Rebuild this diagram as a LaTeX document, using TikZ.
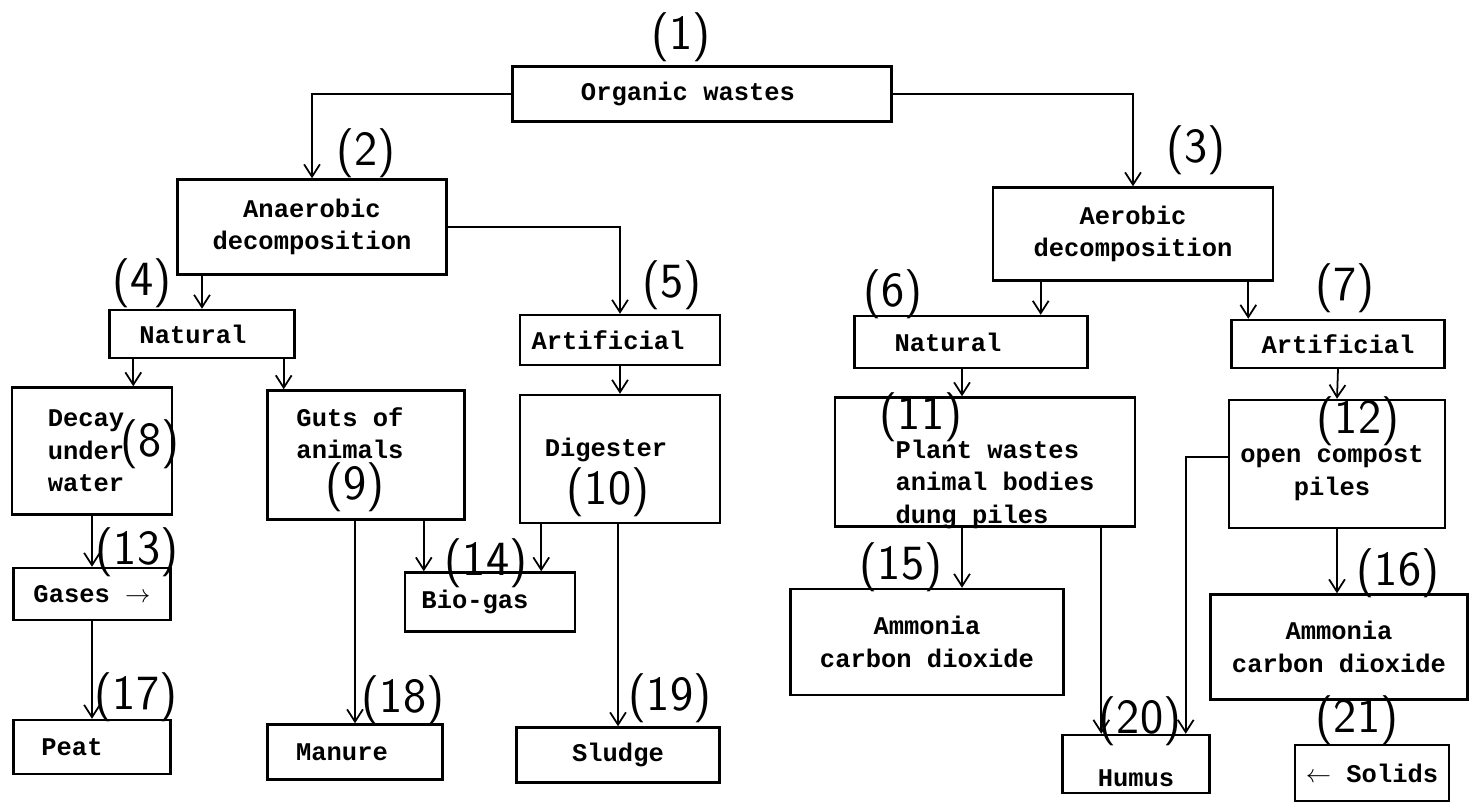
\documentclass[tikz,border=0pt]{standalone}
\usepackage{fontspec}
\setmonofont{Liberation Mono}
\usepackage{tikz}
\usetikzlibrary{arrows.meta,positioning}
\tikzstyle{block}=[draw, rectangle, line width=1.4pt, inner sep=0pt, align=center, font=\ttfamily\bfseries\fontsize{14.5}{18.5}\selectfont]
\tikzstyle{txt}=[inner sep=0pt, align=center, font=\ttfamily\bfseries\fontsize{14.5}{18.5}\selectfont]
\tikzstyle{num}=[inner sep=0pt, font=\sffamily\fontsize{28}{28}\selectfont]
\tikzstyle{line}=[line width=1pt]

\begin{document}
\begin{tikzpicture}[x=0.02cm, y=-0.02cm, >={Straight Barb[length=7pt,width=9pt]}]
  \useasboundingbox (0,0) rectangle (1471,803);
  % boxes, top to bottom
  \node [block, minimum width=7.58cm, minimum height=1.1cm] (org) at (702,94) {Organic wastes\hspace*{0.56cm}};
  \node [block, minimum width=5.38cm, minimum height=1.9cm] (anaer) at (312,227) {Anaerobic\\decomposition};
  \node [block, minimum width=5.6cm, minimum height=1.86cm] (aer) at (1133,234) {Aerobic\\decomposition};
  \node [block, minimum width=3.7cm, minimum height=0.96cm] (nat4) at (202,334) {Natural\hspace*{0.36cm}};
  \node [block, minimum width=4cm, minimum height=1cm] (art5) at (620,340) {Artificial\hspace*{0.48cm}};
  \node [block, minimum width=4.66cm, minimum height=1.04cm] (nat6) at (971,342) {Natural\hspace*{0.92cm}};
  \node [block, minimum width=4.26cm, minimum height=0.96cm] (art7) at (1338,344) {Artificial};
  \node [block, align=left, minimum width=3.2cm, minimum height=2.54cm] (decay) at (92,451) {Decay\hspace*{0.24cm}\\under\\water};
  \node [block, minimum width=3.94cm, minimum height=2.58cm] (guts) at (366,455) {};
  \node [txt] (gutstext) at (350,433) {Guts of\\animals};
  \node [block, minimum width=4cm, minimum height=2.56cm] (dig) at (620,459) {};
  \node [txt] (digtext) at (606,450) {Digester};
  \node [block, minimum width=6cm, minimum height=2.58cm] (pw) at (985,462) {};
  \node [txt, align=left] (pwtext) at (995,484) {Plant wastes\\animal bodies\\dung piles};
  \node [block, minimum width=4.32cm, minimum height=2.56cm] (ocp) at (1337,464) {};
  \node [txt] (ocptext) at (1332,473) {open compost\\piles};
  \node [block, minimum width=3.14cm, minimum height=1.04cm] (gases) at (92,594) {Gases $\rightarrow$};
  \node [block, minimum width=3.4cm, minimum height=1.18cm] (biogas) at (490,602) {Bio-gas\hspace*{0.6cm}};
  \node [block, minimum width=5.46cm, minimum height=2.12cm] (amm15) at (927,642) {Ammonia\\carbon dioxide};
  \node [block, minimum width=5.14cm, minimum height=2.1cm] (amm16) at (1339,647) {Ammonia\\carbon dioxide};
  \node [block, minimum width=3.14cm, minimum height=1.08cm] (peat) at (92,747) {Peat\hspace*{0.8cm}};
  \node [block, minimum width=3.5cm, minimum height=1.1cm] (manure) at (355,752) {Manure\hspace*{0.52cm}};
  \node [block, minimum width=4.06cm, minimum height=1.1cm] (sludge) at (618,755) {Sludge};
  \node [block, minimum width=2.94cm, minimum height=1.16cm, text height=0.89cm, text depth=0cm] (humus) at (1136,764) {Humus};
  \node [block, minimum width=3.08cm, minimum height=1.12cm] (solids) at (1372,773) {$\leftarrow$ Solids};
  % handwritten numbers
  \node [num] (n1) at (681,37) {(1)};
  \node [num] (n2) at (366,153) {(2)};
  \node [num] (n3) at (1196,150) {(3)};
  \node [num] (n4) at (142,283) {(4)};
  \node [num] (n5) at (672,285) {(5)};
  \node [num] (n6) at (893,294) {(6)};
  \node [num] (n7) at (1345,288) {(7)};
  \node [num] (n8) at (150,444) {(8)};
  \node [num] (n9) at (355,487) {(9)};
  \node [num] (n10) at (608,492) {(10)};
  \node [num] (n11) at (921,417) {(11)};
  \node [num] (n12) at (1358,421) {(12)};
  \node [num] (n13) at (137,552) {(13)};
  \node [num] (n14) at (486,563) {(14)};
  \node [num] (n15) at (901,567) {(15)};
  \node [num] (n16) at (1398,573) {(16)};
  \node [num] (n17) at (136,697) {(17)};
  \node [num] (n18) at (403,700) {(18)};
  \node [num] (n19) at (670,698) {(19)};
  \node [num] (n20) at (1140,721) {(20)};
  \node [num] (n21) at (1357,720) {(21)};
  % connectors
  \draw [->, line] (org.west) -| (anaer.north);
  \draw [->, line] (org.east) -| (aer.north);
  \draw [->, line] (nat4.north |- anaer.south) -- (nat4.north);
  \draw [->, line] (anaer.east) -| (art5.north);
  \draw [->, line] ([xshift=0.5cm]nat4.south west) -- ([xshift=0.5cm]nat4.south west |- decay.north);
  \draw [->, line] ([xshift=-0.24cm]nat4.south east) -- ([xshift=-0.24cm]nat4.south east |- guts.north);
  \draw [->, line] (art5.south) -- (dig.north);
  \draw [->, line] (decay.south) -- (gases.north);
  \draw [->, line] (gases.south) -- (peat.north);
  \draw [->, line] (manure.north |- guts.south) -- (manure.north);
  \draw [->, line] ([xshift=0.4cm]biogas.north west |- guts.south) -- ([xshift=0.4cm]biogas.north west);
  \draw [->, line] ([xshift=-0.7cm]biogas.north east |- dig.south) -- ([xshift=-0.7cm]biogas.north east);
  \draw [->, line] (sludge.north |- dig.south) -- (sludge.north);
  \draw [->, line] ([xshift=-0.96cm]nat6.north east |- aer.south) -- ([xshift=-0.96cm]nat6.north east);
  \draw [->, line] ([xshift=0.36cm]art7.north west |- aer.south) -- ([xshift=0.36cm]art7.north west);
  \draw [->, line] ([xshift=-0.18cm]nat6.south) -- ([xshift=-0.18cm]nat6.south |- pw.north);
  \draw [->, line] (art7.south) -- (ocp.north);
  \draw [->, line] ([xshift=-0.18cm]nat6.south |- pw.south) -- ([xshift=-0.18cm]nat6.south |- amm15.north);
  \draw [->, line] ([xshift=0.8cm]humus.north west |- pw.south) -- ([xshift=0.8cm]humus.north west);
  \draw [->, line] ([yshift=0.14cm]ocp.west) -| ([xshift=-0.5cm]humus.north east);
  \draw [->, line] (ocp.south) -- (ocp.south |- amm16.north);
\end{tikzpicture}
\end{document}
